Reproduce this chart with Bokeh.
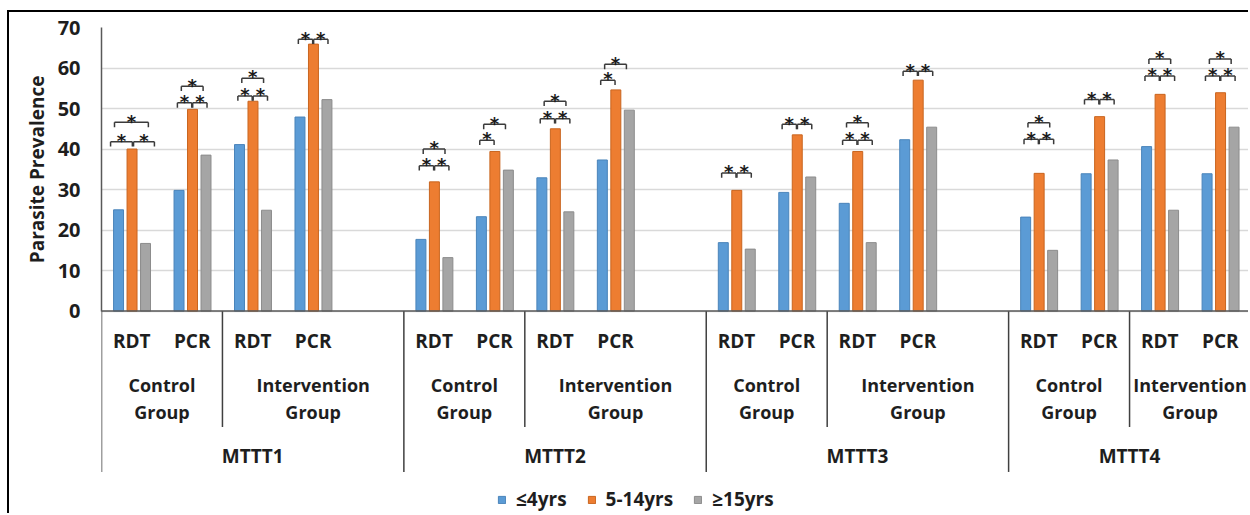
from bokeh.plotting import figure
from bokeh.models import FactorRange, Range1d, FixedTicker, Span, ColumnDataSource, Title
from bokeh.transform import dodge
from bokeh.core.properties import value
from bokeh.embed import file_html
from bokeh.resources import INLINE

# ---------------- data ----------------
trials = ["MTTT1", "MTTT2", "MTTT3", "MTTT4"]
groups = ["Control Group", "Intervention Group"]
group_line1 = ["Control", "Intervention"]
group_line2 = ["Group", "Group"]
tests = ["RDT", "PCR"]
series_names = ["≤4yrs", "5-14yrs", "≥15yrs"]

# order: MTTT1 (Ctrl RDT, Ctrl PCR, Int RDT, Int PCR), MTTT2 ..., MTTT4
age_le4 = [25.0, 29.8, 41.1, 47.9, 17.7, 23.3, 32.9, 37.3,
           16.9, 29.3, 26.6, 42.3, 23.2, 33.9, 40.6, 33.9]
age_5_14 = [40.0, 49.8, 51.8, 65.9, 31.9, 39.4, 45.0, 54.6,
            29.8, 43.5, 39.4, 57.0, 34.0, 48.0, 53.5, 53.9]
age_ge15 = [16.7, 38.5, 24.9, 52.2, 13.2, 34.8, 24.5, 49.6,
            15.3, 33.1, 16.9, 45.4, 15.0, 37.3, 24.9, 45.4]
y_ticks = [0, 10, 20, 30, 40, 50, 60, 70]

# significance brackets: (bar-group index, pair, bracket level)
# pair: "bo" = <=4 vs 5-14, "og" = 5-14 vs >=15, "bg" = <=4 vs >=15
sig_brackets = [
    (0, "bo", 41.8), (0, "og", 41.8), (0, "bg", 46.6),
    (1, "bo", 51.4), (1, "og", 51.4), (1, "bg", 55.5),
    (2, "bo", 53.1), (2, "og", 53.1), (2, "bg", 57.5),
    (3, "bo", 67.1), (3, "og", 67.1),
    (4, "bo", 35.9), (4, "og", 35.9), (4, "bg", 40.0),
    (5, "bo", 42.2), (5, "bg", 46.1),
    (6, "bo", 47.5), (6, "og", 47.5), (6, "bg", 51.8),
    (7, "bo", 57.0), (7, "bg", 60.9),
    (8, "bo", 34.1), (8, "og", 34.1),
    (9, "bo", 46.1), (9, "og", 46.1),
    (10, "bo", 42.2), (10, "og", 42.2), (10, "bg", 46.5),
    (11, "bo", 59.2), (11, "og", 59.2),
    (12, "bo", 42.4), (12, "og", 42.4), (12, "bg", 46.5),
    (13, "bo", 52.2), (13, "og", 52.2),
    (14, "bo", 58.0), (14, "og", 58.0), (14, "bg", 62.2),
    (15, "bo", 58.0), (15, "og", 58.0), (15, "bg", 62.2),
]

# ---------------- factors ----------------
factors = []
bar_factors = []
for i, t in enumerate(trials):
    for g in groups:
        for s in tests:
            factors.append((t, g, s))
            bar_factors.append((t, g, s))
    if i < len(trials) - 1:
        factors.append((t, groups[1], " "))

FONT = value("Open Sans")
TXT = "#1e1e1e"

# canvas starts at (9, 12) because of the css margin + border below
p = figure(width=1241, height=503,
           x_range=FactorRange(*factors, factor_padding=0, subgroup_padding=0,
                               group_padding=0, range_padding=0),
           y_range=Range1d(-50.45, 70.0),
           x_axis_location=None,
           output_backend="svg", toolbar_location=None,
           min_border_left=92, min_border_right=0, min_border_top=15, min_border_bottom=0)
p.outline_line_color = None
p.background_fill_color = "white"
p.border_fill_color = "white"
p.styles = {"margin-left": "7px", "margin-top": "10px",
            "border-left": "2px solid black", "border-top": "2px solid black"}

# y axis
ax = p.yaxis[0]
ax.ticker = FixedTicker(ticks=y_ticks)
ax.bounds = (0, 70)
ax.axis_line_color = "#595959"
ax.axis_line_width = 1.5
ax.major_tick_line_color = None
ax.minor_tick_line_color = None
ax.major_tick_out = 0
ax.major_label_standoff = 21
ax.major_label_text_font = "Open Sans"
ax.major_label_text_font_size = "20px"
ax.major_label_text_font_style = "bold"
ax.major_label_text_color = TXT

p.add_layout(Title(text="Parasite Prevalence", align="right", offset=48,
                   text_font="Open Sans", text_font_size="19px", text_font_style="bold",
                   text_color=TXT, standoff=10), "left")

p.ygrid.ticker = FixedTicker(ticks=y_ticks)
p.ygrid.grid_line_color = "#D9D9D9"
p.ygrid.grid_line_width = 1.5
p.xgrid.visible = False

# bars
src = ColumnDataSource(dict(cat=bar_factors, le4=age_le4, mid=age_5_14, ge15=age_ge15))
offsets = [-0.218, 0.005, 0.228]
fills = ["#5B9BD5", "#ED7D31", "#A5A5A5"]
edges = ["#4A84BA", "#C9651F", "#8C8C8C"]
for key, off, fc, ec, name in zip(["le4", "mid", "ge15"], offsets, fills, edges, series_names):
    p.vbar(x=dodge("cat", off, range=p.x_range), top=key, width=0.165, source=src,
           fill_color=fc, line_color=ec, line_width=1, legend_label=name)

# x axis line at 0
p.add_layout(Span(location=0, dimension="width", line_color="#595959", line_width=1.5))

# category separators (Excel-style multi-level axis)
sx, sy0, sy1 = [], [], []
for t in trials:
    sx.append((t, groups[0], tests[0], -0.5)); sy0.append(0); sy1.append(-39.7)
    sx.append((t, groups[1], tests[0], -0.5)); sy0.append(0); sy1.append(-28.6)
p.segment(x0="x", x1="x", y0="y0", y1="y1",
          source=ColumnDataSource(dict(x=sx, y0=sy0, y1=sy1)),
          line_color="#404040", line_width=1.5)

# axis labels drawn in data space below zero
p.text(x="x", y="y", text="t",
       source=ColumnDataSource(dict(x=bar_factors, y=[-7.3] * len(bar_factors),
                                    t=[f[2] for f in bar_factors])),
       text_font=FONT, text_font_size="19px", text_font_style="bold",
       text_color=TXT, text_align="center", text_baseline="alphabetic")
gx, gy, gt = [], [], []
for t in trials:
    for g, l1, l2 in zip(groups, group_line1, group_line2):
        gx += [[t, g], [t, g]]
        gy += [-18.2, -25.0]
        gt += [l1, l2]
p.text(x="x", y="y", text="t", source=ColumnDataSource(dict(x=gx, y=gy, t=gt)),
       text_font=FONT, text_font_size="18px", text_font_style="bold",
       text_color=TXT, text_align="center", text_baseline="alphabetic")
p.text(x="x", y="y", text="t",
       source=ColumnDataSource(dict(x=trials, y=[-35.8] * 4, t=trials)),
       text_font=FONT, text_font_size="19px", text_font_style="bold",
       text_color=TXT, text_align="center", text_baseline="alphabetic")

# significance brackets
spans_std = {"bo": (-0.245, -0.008), "og": (0.008, 0.245), "bg": (-0.18, 0.18)}
spans_wide = {"bo": (-0.35, 0.01), "og": (0.03, 0.375), "bg": (-0.285, 0.275)}
tick = 1.2
bx0, bx1, by0, by1 = [], [], [], []
stx, sty = [], []
for idx, kind, lvl in sig_brackets:
    a, b = (spans_wide if idx == 0 else spans_std)[kind]
    f = bar_factors[idx]
    xa, xb = (*f, a), (*f, b)
    bx0 += [xa, xa, xb]; bx1 += [xb, xa, xb]
    by0 += [lvl, lvl, lvl]; by1 += [lvl, lvl - tick, lvl - tick]
    stx.append((*f, (a + b) / 2)); sty.append(lvl + 0.3)
p.segment(x0="x0", x1="x1", y0="y0", y1="y1",
          source=ColumnDataSource(dict(x0=bx0, x1=bx1, y0=by0, y1=by1)),
          line_color="#3a3a3a", line_width=1.5)
p.text(x="x", y="y", text="t",
       source=ColumnDataSource(dict(x=stx, y=sty, t=["*"] * len(stx))),
       text_font=value("DejaVu Sans"), text_font_size="18px", text_font_style="bold",
       text_color="#1a1a1a", text_align="center", text_baseline="alphabetic")

# legend
leg = p.legend[0]
leg.orientation = "horizontal"
leg.location = (396, 3)
leg.glyph_width = 9
leg.glyph_height = 9
leg.label_text_font = "Open Sans"
leg.label_text_font_size = "19px"
leg.label_text_font_style = "bold"
leg.label_text_color = TXT
leg.label_standoff = 10
leg.spacing = 20
leg.padding = 0
leg.margin = 0
leg.border_line_color = None
leg.background_fill_alpha = 0

open("out.html", "w").write(file_html(p, INLINE))
